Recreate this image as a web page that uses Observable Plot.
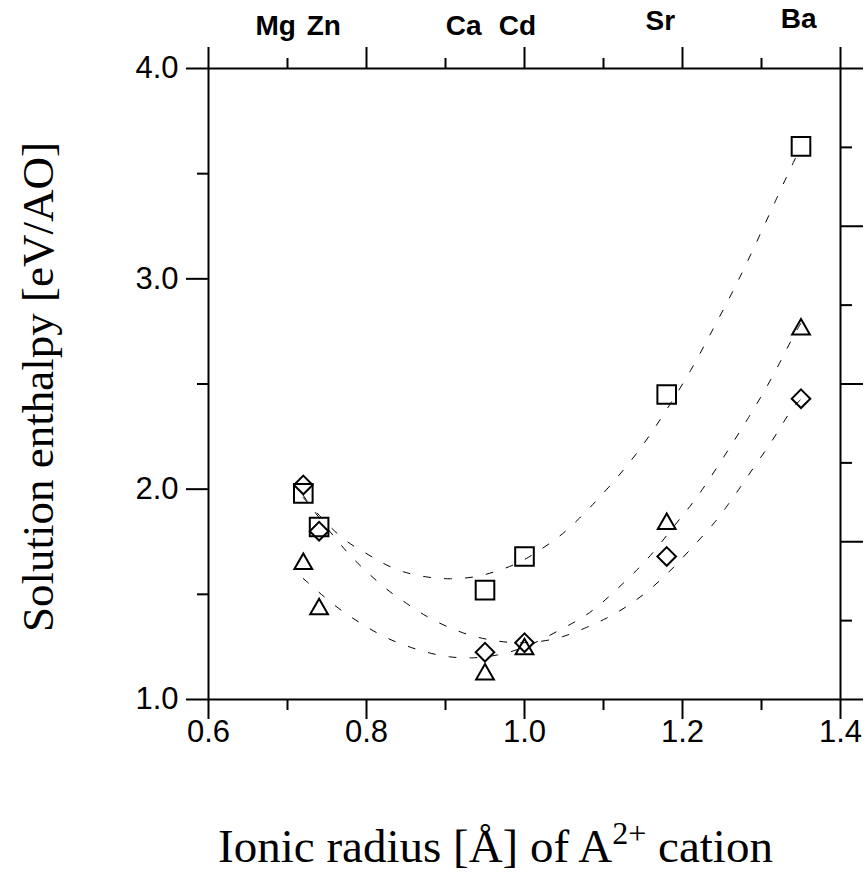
<!DOCTYPE html>
<html><head><meta charset="utf-8">
<script src="https://cdn.jsdelivr.net/npm/d3@7"></script>
<script src="https://cdn.jsdelivr.net/npm/@observablehq/plot@0.6"></script>
<style>body{margin:0;background:#fff;} svg{overflow:visible;}</style>
</head><body><div id="chart"></div>
<script>
// Measured data (ionic radius in Å, solution enthalpy in eV/AO)
const radius = [0.72, 0.74, 0.95, 1.00, 1.18, 1.35];
const squareEnthalpy = [1.98, 1.82, 1.52, 1.68, 2.45, 3.63];
const triangleEnthalpy = [1.645, 1.43, 1.12, 1.24, 1.835, 2.76];
const diamondEnthalpy = [2.02, 1.80, 1.225, 1.27, 1.68, 2.43];

// Dashed fit curves
const squareFitX = [0.72, 0.766, 0.796, 0.820, 0.846, 0.877, 0.906, 0.937, 0.965, 0.995, 1.019, 1.043, 1.065, 1.106, 1.146, 1.178, 1.211, 1.239, 1.266, 1.292, 1.318, 1.343, 1.351];
const squareFitY = [1.96, 1.766, 1.704, 1.647, 1.604, 1.580, 1.571, 1.580, 1.609, 1.651, 1.709, 1.770, 1.842, 2.003, 2.184, 2.365, 2.564, 2.764, 2.954, 3.159, 3.373, 3.577, 3.63];
const triangleFitX = [0.72, 0.747, 0.771, 0.795, 0.820, 0.848, 0.876, 0.905, 0.935, 0.966, 0.995, 1.02, 1.048, 1.075, 1.099, 1.118, 1.142, 1.162, 1.182, 1.2, 1.219, 1.252, 1.284, 1.314, 1.339, 1.35];
const triangleFitY = [1.575, 1.485, 1.414, 1.357, 1.300, 1.257, 1.223, 1.200, 1.195, 1.209, 1.24, 1.28, 1.338, 1.390, 1.461, 1.528, 1.613, 1.694, 1.789, 1.875, 1.961, 2.151, 2.341, 2.531, 2.72, 2.79];
const diamondFitX = [0.72, 0.742, 0.763, 0.781, 0.804, 0.825, 0.851, 0.875, 0.901, 0.930, 0.958, 0.989, 1.022, 1.048, 1.076, 1.104, 1.128, 1.153, 1.176, 1.197, 1.218, 1.238, 1.257, 1.273, 1.290, 1.308, 1.324, 1.339, 1.351];
const diamondFitY = [1.97, 1.851, 1.756, 1.675, 1.594, 1.523, 1.456, 1.395, 1.347, 1.304, 1.281, 1.266, 1.275, 1.295, 1.338, 1.385, 1.437, 1.504, 1.580, 1.660, 1.747, 1.827, 1.922, 2.008, 2.103, 2.198, 2.293, 2.388, 2.431];

// Element labels along the top
const elementNames = ["Mg", "Zn", "Ca", "Cd", "Sr", "Ba"];
const elementLabelX = [0.685, 0.746, 0.923, 0.991, 1.172, 1.347];
const elementLabelY = [4.200, 4.200, 4.200, 4.200, 4.224, 4.233];

// Ticks
const xMajorTicks = [0.6, 0.8, 1.0, 1.2, 1.4];
const xMinorTicks = [0.7, 0.9, 1.1, 1.3];
const yMajorTicks = [1, 2, 3, 4];
const yMinorTicks = [1.5, 2.5, 3.5];
const rightMajorTicks = [1, 1.75, 2.5, 3.25, 4];
const rightMinorTicks = [1.375, 2.125, 2.875, 3.625];

const xTitle = "Ionic radius [Å] of A2+ cation";
const yTitle = "Solution enthalpy [eV/AO]";

const zip = (xs, ys) => xs.map((x, i) => ({x, y: ys[i]}));
const squares = zip(radius, squareEnthalpy);
const triangles = zip(radius, triangleEnthalpy);
const diamonds = zip(radius, diamondEnthalpy);
const fits = [
  ...zip(squareFitX, squareFitY).map(d => ({...d, s: "square"})),
  ...zip(triangleFitX, triangleFitY).map(d => ({...d, s: "triangle"})),
  ...zip(diamondFitX, diamondFitY).map(d => ({...d, s: "diamond"}))
];
const labels = elementNames.map((n, i) => ({n, x: elementLabelX[i], y: elementLabelY[i]}));

const tickFont = "'Liberation Sans', Arial, sans-serif";
const serif = "'Liberation Serif', 'Times New Roman', serif";
const blank = () => "";

const chart = Plot.plot({
  width: 867,
  height: 877,
  marginLeft: 208,
  marginRight: 27,
  marginTop: 68,
  marginBottom: 178,
  style: {fontFamily: tickFont, background: "white", color: "black"},
  x: {domain: [0.6, 1.4]},
  y: {domain: [1, 4]},
  marks: [
    Plot.line(fits, {x: "x", y: "y", z: "s", curve: "basis", stroke: "black", strokeWidth: 1, strokeDasharray: "7,14"}),
    Plot.frame({stroke: "black", strokeWidth: 2}),
    Plot.axisX(xMajorTicks, {anchor: "bottom", tickSize: 20, tickPadding: 0, tickFormat: d => d.toFixed(1), fontSize: 31, strokeWidth: 2, label: null}),
    Plot.axisX(xMinorTicks, {anchor: "bottom", tickSize: 11, tickFormat: blank, strokeWidth: 2, label: null}),
    Plot.axisX(xMajorTicks, {anchor: "top", tickSize: 22, tickFormat: blank, strokeWidth: 2, label: null}),
    Plot.axisX(xMinorTicks, {anchor: "top", tickSize: 11, tickFormat: blank, strokeWidth: 2, label: null}),
    Plot.axisY(yMajorTicks, {anchor: "left", tickSize: 22, tickPadding: 8, tickFormat: d => d.toFixed(1), fontSize: 31, strokeWidth: 2, label: null}),
    Plot.axisY(yMinorTicks, {anchor: "left", tickSize: 11, tickFormat: blank, strokeWidth: 2, label: null}),
    Plot.axisY(rightMajorTicks, {anchor: "right", tickSize: 22, tickFormat: blank, strokeWidth: 2, label: null}),
    Plot.axisY(rightMinorTicks, {anchor: "right", tickSize: 11, tickFormat: blank, strokeWidth: 2, label: null}),
    Plot.dot(squares, {x: "x", y: "y", symbol: "square", r: 10.5, stroke: "black", strokeWidth: 2, fill: "none"}),
    Plot.dot(triangles, {x: "x", y: "y", symbol: "triangle", r: 6.6, stroke: "black", strokeWidth: 2, fill: "none"}),
    Plot.dot(diamonds, {x: "x", y: "y", symbol: "diamond2", r: 8.4, stroke: "black", strokeWidth: 2, fill: "none"}),
    Plot.text(labels, {x: "x", y: "y", text: "n", fontSize: 28, fontWeight: "bold", fill: "black", clip: false}),
    Plot.text([xTitle], {frameAnchor: "bottom", dx: -29, dy: 162, fontSize: 47, fontFamily: serif, fill: "black"}),
    Plot.text([yTitle], {frameAnchor: "left", dx: -170, dy: 3, rotate: -90, textAnchor: "middle", fontSize: 45, fontFamily: serif, fill: "black"})
  ]
});
document.getElementById("chart").appendChild(chart);

// superscript for A^{2+}
const t = Array.from(chart.querySelectorAll("text")).find(el => el.textContent === xTitle);
if (t) {
  t.textContent = "";
  const ns = "http://www.w3.org/2000/svg";
  const a = document.createElementNS(ns, "tspan"); a.textContent = "Ionic radius [Å] of A";
  const b = document.createElementNS(ns, "tspan"); b.textContent = "2+"; b.setAttribute("dy", "-18"); b.setAttribute("font-size", "32");
  const c = document.createElementNS(ns, "tspan"); c.textContent = " cation"; c.setAttribute("dy", "18");
  t.append(a, b, c);
}
</script>
</body></html>
